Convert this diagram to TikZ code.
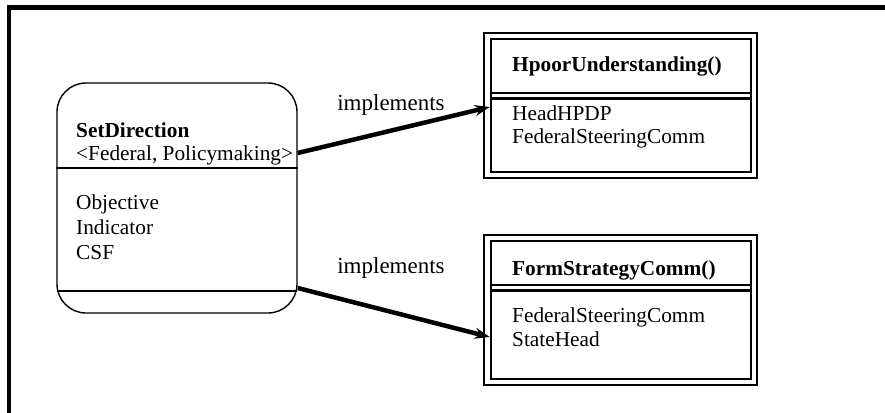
\documentclass[tikz,border=0pt]{standalone}
\usepackage{fontspec}
\setmainfont{Liberation Serif}
\usetikzlibrary{arrows.meta}
\begin{document}
\begin{tikzpicture}[x=1pt,y=-1pt,
  txt/.style={inner sep=0pt,anchor=base west,font=\fontsize{21.3}{24}\selectfont},
  btxt/.style={txt,font=\fontsize{21.3}{24}\selectfont\bfseries},
  lbl/.style={inner sep=0pt,anchor=base,font=\fontsize{23}{26}\selectfont},
  classbox/.style={draw,line width=1.4pt,rounded corners=29pt,minimum width=240pt,minimum height=230pt,inner sep=0pt},
  opbox/.style={draw,line width=2.6pt,inner sep=0pt},
  thinrule/.style={line width=1.4pt},
  dblrule/.style={line width=2.3pt},
  outerline/.style={line width=2pt},
  implarrow/.style={line width=4.5pt,-{Stealth[length=15pt,width=11pt,inset=5pt]}},
  frame/.style={line width=4.4pt}]
\useasboundingbox (0,0) rectangle (885,412);
% frame
\draw[frame] (8.8,414) -- (8.8,7.7) -- (887,7.7);
% SetDirection class
\node[classbox] (sd) at (177,198) {};
\draw[thinrule] (sd.west |- 0,168) -- (sd.east |- 0,168);
\draw[thinrule] ([xshift=0.6pt]sd.west |- 0,291) -- ([xshift=-0.6pt]sd.east |- 0,291);
\node[btxt] (sdt) at (76,137) {SetDirection};
\node[txt] (fed) at (76,160.5) {<Federal, Policymaking>};
\node[txt] (obj) at (76,209.5) {Objective};
\node[txt] (ind) at (76,234.5) {Indicator};
\node[txt] (csf) at (76,259.5) {CSF};
% HpoorUnderstanding operation
\node[opbox,minimum width=260pt,minimum height=133pt] (hu) at (621,105.5) {};
\draw[outerline] ([xshift=-5.5pt,yshift=5pt]hu.north west) rectangle ([xshift=5pt,yshift=-4.5pt]hu.south east);
\draw[dblrule] (hu.west |- 0,93) -- (hu.east |- 0,93);
\draw[dblrule] (hu.west |- 0,98.5) -- (hu.east |- 0,98.5);
\node[btxt] (hut) at (512,71) {HpoorUnderstanding()};
\node[txt] (hu1) at (512,120) {HeadHPDP};
\node[txt] (hu2) at (512,143.5) {FederalSteeringComm};
% FormStrategyComm operation
\node[opbox,minimum width=260pt,minimum height=138pt] (fs) at (621,310) {};
\draw[outerline] ([xshift=-5.5pt,yshift=5pt]fs.north west) rectangle ([xshift=5pt,yshift=-4.5pt]fs.south east);
\draw[dblrule] (fs.west |- 0,285) -- (fs.east |- 0,285);
\draw[dblrule] (fs.west |- 0,290.5) -- (fs.east |- 0,290.5);
\node[btxt] (fst) at (512,275) {FormStrategyComm()};
\node[txt] (fs1) at (512,322) {FederalSteeringComm};
\node[txt] (fs2) at (512,346.5) {StateHead};
% connectors
\draw[implarrow] ([yshift=45pt]sd.east) -- ([yshift=-1.5pt]hu.west);
\draw[implarrow] ([yshift=-90pt]sd.east) -- ([yshift=-27pt]fs.west);
\node[lbl] (l1) at (391,110) {implements};
\node[lbl] (l2) at (391,273) {implements};
\end{tikzpicture}
\end{document}
